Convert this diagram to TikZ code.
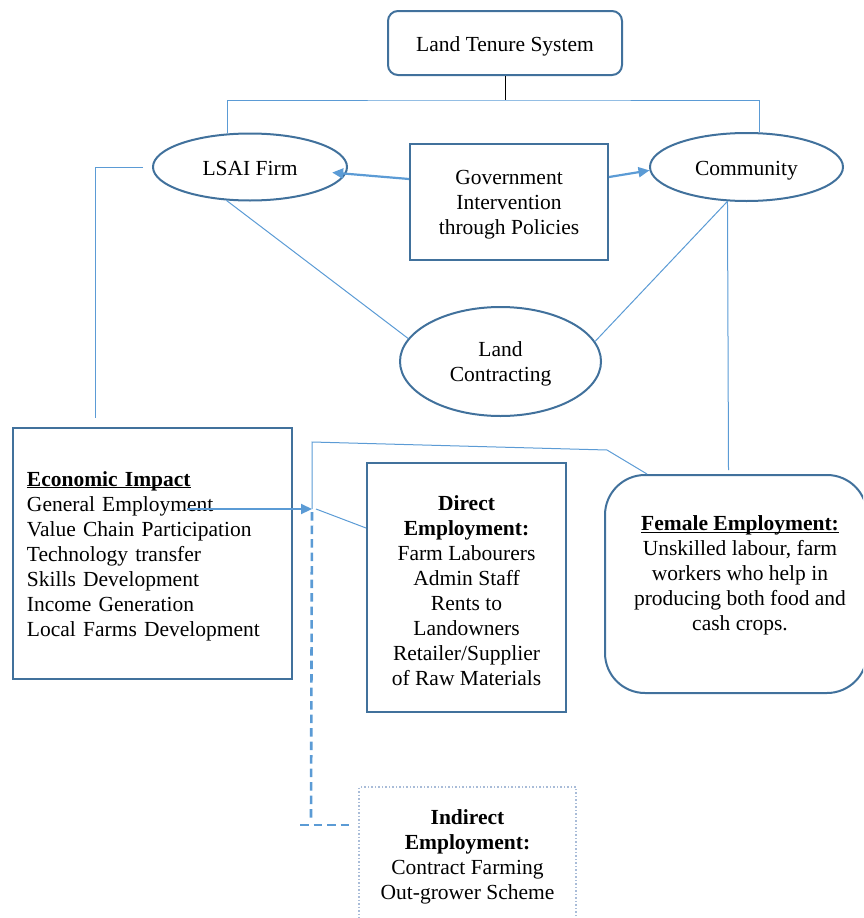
\documentclass[tikz,border=0pt]{standalone}
\usepackage{fontspec}
\setmainfont{Liberation Serif}
\usetikzlibrary{shapes.geometric,arrows.meta}
\definecolor{boxblue}{HTML}{41719C}
\definecolor{lineblue}{HTML}{5B9BD5}
\definecolor{dotblue}{HTML}{A9BCD8}
\newcommand{\topstrutx}{\rule{0pt}{20.5pt}}
\newcommand{\ulinex}[1]{\underline{\smash{#1}}\vphantom{#1}}
\begin{document}
\begin{tikzpicture}[x=1pt,y=-1pt,
  every node/.style={font=\fontsize{21.5}{25}\selectfont, inner sep=0pt},
  oneline/.style={text height=19pt, text depth=3pt},
  boxnode/.style={draw=boxblue, line width=2pt, rectangle, align=center},
  ellnode/.style={draw=boxblue, line width=2pt, ellipse, align=center},
  conn/.style={draw=lineblue, line width=1pt},
  arrowline/.style={draw=lineblue, line width=2.2pt, -{Triangle[length=11pt,width=10pt]}},
  dashline/.style={draw=lineblue, line width=2.6pt, dash pattern=on 8.5pt off 5pt},
]
\clip (0,0) rectangle (863,918);

% nodes
\node[boxnode, oneline, rounded corners=10pt, minimum width=234pt, minimum height=64pt] (lts) at (505,43) {Land Tenure System};
\node[ellnode, oneline, minimum width=194pt, minimum height=67pt] (lsai) at (250,167) {LSAI Firm};
\node[ellnode, oneline, minimum width=193pt, minimum height=68pt] (comm) at (746.5,167) {Community};
\node[boxnode, minimum width=198pt, minimum height=116pt] (gov) at (509,202) {\topstrutx Government\\Intervention\\through Policies};
\node[ellnode, minimum width=201pt, minimum height=109pt] (lc) at (500.5,361.5) {\topstrutx Land\\Contracting};
\node[boxnode, text height=20pt, minimum width=279pt, minimum height=251pt, text width=251pt, align=left] (econ) at (152.5,553.5)
  {\ulinex{\textbf{Economic Impact}}\\General Employment\\Value Chain Participation\\Technology transfer\\Skills Development\\Income Generation\\Local Farms Development};
\node[boxnode, minimum width=199pt, minimum height=249pt] (direct) at (466.5,587.5)
  {\topstrutx\textbf{Direct}\\\textbf{Employment:}\\Farm Labourers\\Admin Staff\\Rents to\\Landowners\\Retailer/Supplier\\of Raw Materials};
\node[draw=boxblue, line width=2pt, rounded corners=40pt, minimum width=262pt, minimum height=218pt] (female) at (736,584) {};
\node[align=center] (femtxt) at (740,573)
  {\topstrutx\ulinex{\textbf{Female Employment:}}\\Unskilled labour, farm\\workers who help in\\producing both food and\\cash crops.};
\node[draw=dotblue, line width=1.5pt, dash pattern=on 1.5pt off 2pt, minimum width=217pt, minimum height=136pt, align=center] (indirect) at (467.5,855)
  {\rule{0pt}{18pt}\textbf{Indirect}\\\textbf{Employment:}\\Contract Farming\\Out-grower Scheme};

% coordinates
\coordinate (tj) at (505,100);
\coordinate (ecTop) at (95,428);
\coordinate (fj) at (728.5,470);
\coordinate (geS) at (187,509);
\coordinate (jMid) at (312,509);
\coordinate (jTop) at (312,442);
\coordinate (fbend) at (607,450);
\coordinate (jBot) at (311,818);
\coordinate (dL) at (300,825);

% connectors
\draw[black, line width=0.8pt] (lts.south) -- (tj);
\draw[conn] (lsai.124) |- (tj) -| (comm.69);
\draw[conn, shorten <=9pt, shorten >=10pt] (lsai.west) -| (ecTop);
\draw[conn] (lsai.235) -- (lc.166);
\draw[conn] (comm.241) -- (lc.12);
\draw[conn] (comm.241) -- (fj);
\draw[arrowline, shorten >=-14pt] ([yshift=23pt]gov.west) -- (lsai.-4);
\draw[arrowline] ([yshift=25pt]gov.east) -- (comm.182);
\draw[conn] (jMid) -- (jTop) -- (fbend) -- ([xshift=43pt]female.north west);
\draw[conn] ([xshift=4pt]jMid) -- ([yshift=59.5pt]direct.west);
\draw[arrowline] (geS) -- (jMid);
\draw[dashline, shorten <=3pt] (jMid) -- (jBot);
\draw[dashline, shorten >=7pt] (dL) -- ([yshift=30pt]indirect.west);
\end{tikzpicture}
\end{document}
